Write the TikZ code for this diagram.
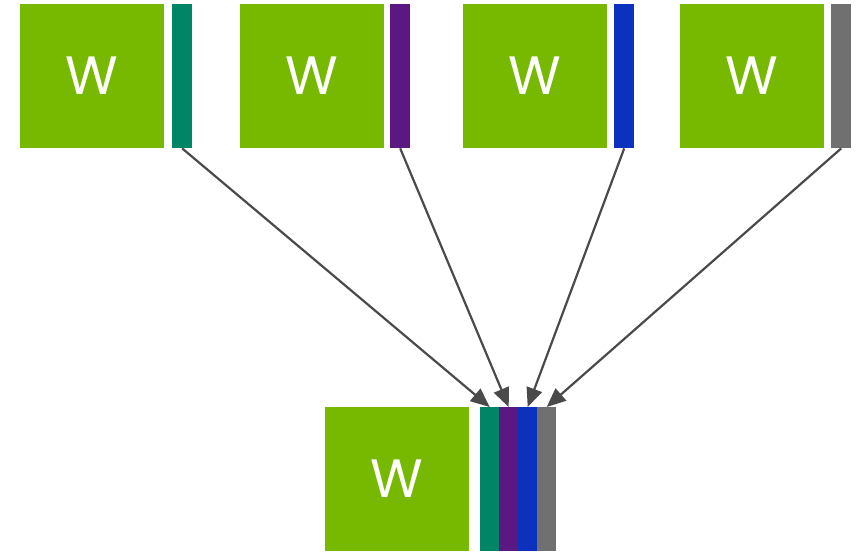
\documentclass[tikz,border=0pt]{standalone}
\usepackage{xcolor}
\usepackage{fontspec}
\setmainfont{Poppins}
\usepackage{tikz}
\usetikzlibrary{arrows,arrows.meta}

\definecolor{wgreen}{HTML}{77B900}
\definecolor{gradA}{HTML}{008566}
\definecolor{gradB}{HTML}{5B1782}
\definecolor{gradC}{HTML}{0C32BD}
\definecolor{gradD}{HTML}{707070}
\definecolor{arrowgray}{HTML}{4A4A4A}

\tikzstyle{weight} = [anchor=north west,fill=wgreen,inner sep=0pt,minimum width=144pt,minimum height=144pt,text=white,font=\fontsize{54}{54}\selectfont]
\tikzstyle{grad} = [anchor=north west,inner sep=0pt,minimum width=20pt,minimum height=144pt]
\tikzstyle{slice} = [anchor=north west,inner sep=0pt,minimum width=19pt,minimum height=144pt]
\tikzstyle{arrow} = [line width=2.2pt,draw=arrowgray,-{Triangle[length=19pt,width=16pt]}]

\begin{document}
\begin{tikzpicture}[x=1pt,y=-1pt]
	\useasboundingbox (0,0) rectangle (861,551);
	% Workers:
	% each one holds its own copy of W and a gradient bar next to it
	\foreach \i/\x/\g/\c in {1/20/172/gradA, 2/240/390/gradB, 3/463/614/gradC, 4/680/831/gradD}{%
		\node [weight] (w\i) at (\x,4) {W};
		\node [grad,fill=\c] (g\i) at (\g,4) {};
	}
	% Reduced result:
	% the gradients are stacked side by side next to W
	\node [weight] (w0) at (325,407) {W};
	\foreach \i/\x/\c in {1/480/gradA, 2/499/gradB, 3/518/gradC, 4/537/gradD}{%
		\node [slice,fill=\c] (s\i) at (\x,407) {};
	}
	% Arrows from every gradient down to its slice
	\foreach \i in {1,...,4}{%
		\draw [arrow,fill=arrowgray] (g\i.south) -- (s\i.north);
	}
\end{tikzpicture}
\end{document}
